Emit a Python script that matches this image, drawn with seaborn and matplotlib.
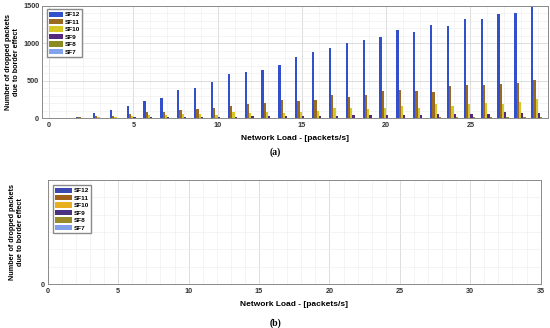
import matplotlib
import numpy as np
import pandas as pd
import seaborn as sns
from matplotlib.patches import Patch
from matplotlib.ticker import MultipleLocator

matplotlib.use("Agg")
import matplotlib.pyplot as plt

LOADS = list(range(1, 30))
SF_NAMES = ["SF12", "SF11", "SF10", "SF9", "SF8", "SF7"]

SF12 = [3, 20, 72, 104, 157, 225, 265, 374, 400, 482, 590, 621, 648, 706, 823,
        878, 936, 1004, 1044, 1089, 1179, 1157, 1247, 1233, 1328, 1323, 1391, 1409, 1490]
SF11 = [2, 10, 27, 31, 50, 77, 86, 113, 126, 140, 167, 194, 198, 248, 225,
        239, 311, 284, 306, 356, 378, 365, 347, 428, 437, 437, 455, 473, 504]
SF10 = [1, 5, 15, 20, 30, 40, 35, 50, 55, 45, 75, 70, 75, 63, 77,
        99, 135, 130, 117, 140, 158, 140, 185, 162, 185, 198, 185, 216, 252]
SF9 = [0, 2, 5, 6, 8, 10, 12, 14, 15, 17, 20, 22, 24, 25, 28,
       30, 33, 35, 36, 40, 45, 42, 58, 50, 55, 60, 80, 70, 65]
SF8 = [0, 0, 1, 1, 2, 2, 2, 3, 3, 3, 4, 4, 4, 5, 5,
       5, 6, 6, 6, 7, 7, 7, 8, 8, 8, 9, 9, 9, 10]
SF7 = [0, 0, 0, 0, 1, 1, 1, 1, 1, 1, 2, 2, 2, 2, 2,
       2, 3, 3, 3, 3, 3, 3, 4, 4, 4, 4, 4, 4, 5]

COLORS_A = ["#3350cc", "#9a6a22", "#d6c626", "#55287f", "#8c8a22", "#82a2ee"]
COLORS_B = ["#3c48b0", "#a0601c", "#e8b020", "#4a3080", "#9a8a2a", "#7f9fe8"]

plt.rcParams["font.family"] = ["Liberation Sans", "DejaVu Sans"]
plt.rcParams["font.weight"] = "bold"

df = pd.DataFrame({
    "load": np.tile(LOADS, len(SF_NAMES)),
    "sf": np.repeat(SF_NAMES, len(LOADS)),
    "count": SF12 + SF11 + SF10 + SF9 + SF8 + SF7,
})

fig = plt.figure(figsize=(5.5, 3.28), dpi=100)
ax_a = fig.add_axes([0.0764, 0.640, 0.920, 0.342])
ax_b = fig.add_axes([0.087, 0.134, 0.896, 0.317])


def style_axes(ax, label_x):
    ax.grid(True, which="major", color="#d8d8d8", linewidth=0.6)
    ax.grid(True, which="minor", color="#ececec", linewidth=0.4)
    ax.set_axisbelow(True)
    for spine in ax.spines.values():
        spine.set_color("#8a8a8a")
        spine.set_linewidth(0.7)
    ax.tick_params(axis="both", which="both", length=0, labelsize=5.2,
                   labelcolor="#333333", pad=3)
    ax.tick_params(axis="y", pad=2)
    ax.set_ylabel("Number of dropped packets\ndue to border effect",
                  fontsize=5.2, fontweight="bold")
    ax.yaxis.set_label_coords(label_x, 0.5)
    ax.set_xlabel("Network Load - [packets/s]", fontsize=6, fontweight="bold",
                  labelpad=4)


def add_legend(ax, colors, anchor, handlelength):
    ax.legend(handles=[Patch(facecolor=c, edgecolor="none") for c in colors],
              labels=SF_NAMES, loc="upper left", fontsize=4.6, frameon=True,
              fancybox=False, edgecolor="#8a8a8a", framealpha=1,
              handlelength=handlelength, handleheight=0.9, labelspacing=0.25,
              borderpad=0.35, handletextpad=0.3, borderaxespad=0,
              bbox_to_anchor=anchor)


sns.barplot(data=df, x="load", y="count", hue="sf", hue_order=SF_NAMES,
            palette=COLORS_A, native_scale=True, width=0.8, saturation=1,
            edgecolor="none", linewidth=0, errorbar=None, ax=ax_a)
ax_a.set_xlim(-0.42, 29.6)
ax_a.set_ylim(0, 1500)
ax_a.xaxis.set_major_locator(MultipleLocator(5))
ax_a.xaxis.set_minor_locator(MultipleLocator(1))
ax_a.yaxis.set_major_locator(MultipleLocator(500))
ax_a.yaxis.set_minor_locator(MultipleLocator(100))
style_axes(ax_a, -0.043)
add_legend(ax_a, COLORS_A, (0.01, 0.97), 2.1)

ax_b.set_xlim(0, 35)
ax_b.set_ylim(0, 1500)
ax_b.xaxis.set_major_locator(MultipleLocator(5))
ax_b.xaxis.set_minor_locator(MultipleLocator(1))
ax_b.set_yticks([0])
ax_b.yaxis.set_minor_locator(MultipleLocator(250))
style_axes(ax_b, -0.049)
add_legend(ax_b, COLORS_B, (0.01, 0.95), 2.6)

fig.text(0.5, 0.535, "(a)", ha="center", va="center", fontsize=7,
         fontweight="bold", family=["Liberation Serif", "DejaVu Serif"])
fig.text(0.5, 0.015, "(b)", ha="center", va="center", fontsize=7,
         fontweight="bold", family=["Liberation Serif", "DejaVu Serif"])

fig.savefig("out.png", dpi=100)
